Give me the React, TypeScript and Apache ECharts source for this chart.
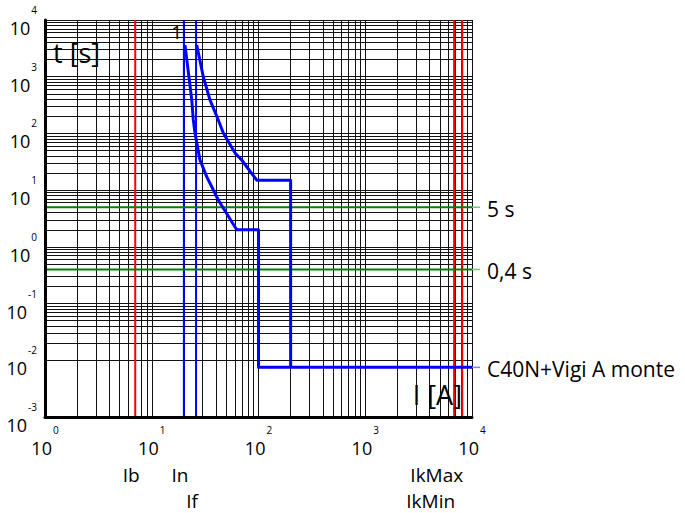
import React, { useEffect, useRef } from 'react';
import * as echarts from 'echarts';

const X_MIN = 1;
const X_MAX = 10000;
const Y_MIN = 0.001;
const Y_MAX = 10000;

// Tripping curve "C40N+Vigi A monte" (current in A, time in s)
const curveMinI = [20.5, 23.7, 24.5, 25.4, 28.3, 32.7, 42, 62.5, 100, 100, 10000];
const curveMinT = [3600, 390, 173, 102, 34, 17.3, 6.7, 2, 2, 0.0075, 0.0075];
const curveMaxI = [26.4, 30.4, 35.1, 42, 46.8, 60.3, 69.6, 96.2, 200, 200];
const curveMaxT = [3600, 1000, 390, 173, 102, 45, 34, 15, 15, 0.0075];
const curveName = 'C40N+Vigi A monte';
const curveNumber = '1';

// Vertical reference currents
const refNames = ['Ib', 'In', 'If', 'IkMax', 'IkMin'];
const refValues = [7, 20, 26, 8100, 6800];
const refColors = ['#ff0000', '#0000ff', '#0000ff', '#ff0000', '#ff0000'];
const refRows = [0, 0, 1, 0, 1];

// Horizontal reference times
const timeLabels = ['5 s', '0,4 s'];
const timeValues = [5, 0.4];

const FONT = 'Open Sans';

function logGridValues(minExp: number, maxExp: number): number[] {
  const out: number[] = [];
  for (let e = minExp; e < maxExp; e++) {
    for (let m = 1; m <= 9; m++) out.push(Number((m * Math.pow(10, e)).toPrecision(6)));
  }
  out.push(Math.pow(10, maxExp));
  return out;
}

const xGrid = logGridValues(0, 4);
const yGrid = logGridValues(-3, 4);

const powLabel = (v: number) => `{a|10}{b|${Math.round(Math.log10(v))}}`;
const labelRich = {
  a: { fontSize: 18, lineHeight: 34, verticalAlign: 'bottom', color: '#000', fontFamily: FONT },
  b: { fontSize: 10, lineHeight: 10, padding: [2, 0, 0, 1], verticalAlign: 'top', color: '#000', fontFamily: FONT },
};

export default function App() {
  const ref = useRef<HTMLDivElement>(null);
  useEffect(() => {
    if (!ref.current) return;
    const chart = echarts.init(ref.current, undefined, { renderer: 'svg' });
    const series: any[] = [];
    series.push({
      type: 'line',
      data: [],
      silent: true,
      z: 1,
      markLine: {
        z: 1,
        silent: true,
        animation: false,
        symbol: ['none', 'none'],
        label: { show: false },
        emphasis: { disabled: true },
        lineStyle: { color: '#111', width: 1, type: 'solid' },
        data: [
          ...xGrid.map((v) => ({ xAxis: v })),
          ...yGrid.map((v) => ({ yAxis: v })),
        ],
      },
    });
    refValues.forEach((v, i) => {
      series.push({
        type: 'line',
        name: refNames[i],
        data: [[v, Y_MIN], [v, Y_MAX]],
        symbol: 'none',
        silent: true,
        z: 6,
        lineStyle: { color: refColors[i], width: 2 },
      });
    });
    timeValues.forEach((t, i) => {
      series.push({
        type: 'line',
        name: timeLabels[i],
        data: [[X_MIN, t], [X_MAX, t]],
        symbol: 'none',
        silent: true,
        z: 6,
        lineStyle: { color: '#008000', width: 2 },
      });
    });
    series.push({
      type: 'line',
      name: curveName + ' min',
      data: curveMinI.map((x, i) => [x, curveMinT[i]]),
      symbol: 'none',
      silent: true,
      z: 7,
      lineStyle: { color: '#0000ff', width: 3, join: 'round' },
    });
    series.push({
      type: 'line',
      name: curveName + ' max',
      data: curveMaxI.map((x, i) => [x, curveMaxT[i]]),
      symbol: 'none',
      silent: true,
      z: 7,
      lineStyle: { color: '#0000ff', width: 3, join: 'round' },
    });

    chart.setOption({
      animation: false,
      backgroundColor: '#fff',
      textStyle: { fontFamily: FONT },
      grid: { left: 45, right: 213, top: 20, bottom: 96 },
      xAxis: {
        type: 'log',
        logBase: 10,
        min: X_MIN,
        max: X_MAX,
        z: 8,
        axisLine: { show: true, onZero: false, lineStyle: { color: '#000', width: 3 } },
        axisTick: { show: false },
        splitLine: { show: false },
        axisLabel: { formatter: powLabel, rich: labelRich, margin: 6 },
      },
      yAxis: {
        type: 'log',
        logBase: 10,
        min: Y_MIN,
        max: Y_MAX,
        z: 8,
        axisLine: { show: true, onZero: false, lineStyle: { color: '#000', width: 3 } },
        axisTick: { show: false },
        splitLine: { show: false },
        axisLabel: { formatter: powLabel, rich: labelRich, margin: 8 },
      },
      series,
    });

    const px = (x: number, y: number) => chart.convertToPixel({ gridIndex: 0 }, [x, y]) as number[];
    const graphics: any[] = [];
    const gridRight = px(X_MAX, Y_MIN)[0];
    const txt = (text: string, x: number, y: number, align: string, size = 18) => ({
      type: 'text',
      z: 10,
      silent: true,
      style: {
        text, x, y, align, verticalAlign: 'middle', fill: '#000',
        fontSize: size, fontFamily: FONT,
      },
    });
    refValues.forEach((v, i) => {
      const p = px(v, Y_MIN);
      const y = p[1] + 58 + refRows[i] * 26;
      if (p[0] + 30 > gridRight) graphics.push(txt(refNames[i], p[0] + 1, y, 'right', 19));
      else graphics.push(txt(refNames[i], p[0] - 4, y, 'center', 19));
    });
    const sideLabel = (label: string, t: number, color: string) => {
      const p = px(X_MAX, t);
      graphics.push({
        type: 'line', z: 10, silent: true,
        shape: { x1: p[0], y1: p[1], x2: p[0] + 8, y2: p[1] },
        style: { stroke: color, lineWidth: 1.5 },
      });
      graphics.push(txt(label, p[0] + 15, p[1] + 2, 'left', 21));
    };
    timeValues.forEach((t, i) => sideLabel(timeLabels[i], t, '#80c080'));
    sideLabel(curveName, curveMinT[curveMinT.length - 1], '#8080ff');
    const top = px(curveMinI[0], curveMinT[0]);
    graphics.push(txt(curveNumber, top[0] - 3, top[1] - 13, 'right', 19));
    const tl = px(X_MIN, Y_MAX);
    graphics.push(txt('t [s]', tl[0] + 8, tl[1] + 32, 'left', 27));
    const br = px(X_MAX, Y_MIN);
    graphics.push(txt('I [A]', br[0] - 10, br[1] - 23, 'right', 27));
    chart.setOption({ graphic: graphics });

    return () => chart.dispose();
  }, []);
  return <div ref={ref} style={{ position: 'fixed', left: 0, top: 0, width: 685, height: 513 }} />;
}
